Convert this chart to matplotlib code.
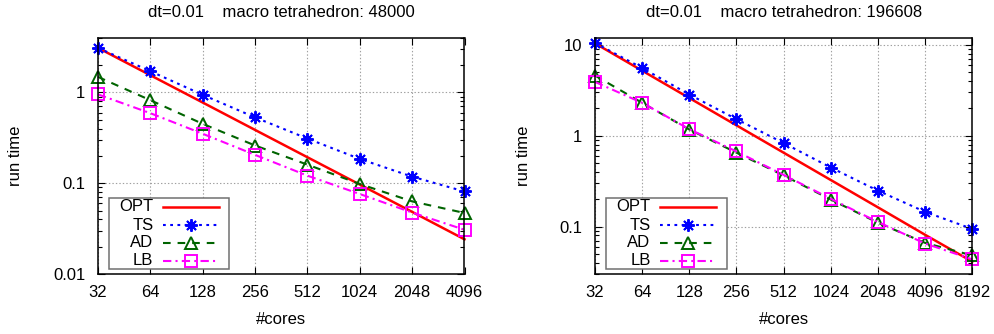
import matplotlib
matplotlib.use("Agg")
import matplotlib.pyplot as plt
from matplotlib.lines import Line2D
from matplotlib.patches import Rectangle
from matplotlib.ticker import FixedLocator, FixedFormatter, LogLocator, NullLocator, NullFormatter

plt.rcParams['font.family'] = ['Liberation Sans', 'DejaVu Sans']
plt.rcParams['lines.scale_dashes'] = False

# ---- data ----
cores_a = [32, 64, 128, 256, 512, 1024, 2048, 4096]
opt_a = [3.09, 1.545, 0.773, 0.386, 0.193, 0.0966, 0.0483, 0.0241]
ts_a = [3.09, 1.71, 0.94, 0.53, 0.31, 0.185, 0.118, 0.081]
ad_a = [1.48, 0.82, 0.45, 0.26, 0.16, 0.098, 0.063, 0.047]
lb_a = [0.95, 0.59, 0.35, 0.205, 0.121, 0.076, 0.0475, 0.0307]

cores_b = [32, 64, 128, 256, 512, 1024, 2048, 4096, 8192]
opt_b = [10.4, 5.2, 2.6, 1.3, 0.65, 0.325, 0.1625, 0.081, 0.041]
ts_b = [10.5, 5.57, 2.84, 1.52, 0.83, 0.446, 0.248, 0.145, 0.094]
ad_b = [4.6, 2.3, 1.17, 0.65, 0.365, 0.198, 0.11, 0.066, 0.048]
lb_b = [3.91, 2.3, 1.18, 0.67, 0.37, 0.202, 0.112, 0.065, 0.0435]

titles = ["dt=0.01    macro tetrahedron: 48000",
          "dt=0.01    macro tetrahedron: 196608"]
ylims = [(0.01, 4.0), (0.03, 12.0)]
yticks = [[0.01, 0.1, 1], [0.1, 1, 10]]
ytick_labels = [["0.01", "0.1", "1"], ["0.1", "1", "10"]]
series_names = ["OPT", "TS", "AD", "LB"]

styles = {
    "OPT": dict(color="#ff0000", linestyle="-", marker=None),
    "TS": dict(color="#0000ff", dashes=(2.0, 3.2), marker=(8, 2, 0)),
    "AD": dict(color="#006400", dashes=(5.5, 5.0), marker="^"),
    "LB": dict(color="#ff00ff", dashes=(6.0, 3.0, 1.5, 3.0), marker="s"),
}

W, H = 995, 334
fig = plt.figure(figsize=(W / 100, H / 100), dpi=100)

# axes boxes in pixels: left, right, top, bottom
boxes = [(98, 464.5, 37.7, 274.0), (595, 972.3, 37.7, 274.0)]
ylabel_x = [16, 523]

datasets = [
    (cores_a, [opt_a, ts_a, ad_a, lb_a]),
    (cores_b, [opt_b, ts_b, ad_b, lb_b]),
]


def draw_line(ax, x, y, name, **kw):
    st = styles[name]
    args = dict(color=st["color"], linewidth=1.5, markersize=9,
                markeredgewidth=1.4, markerfacecolor="none",
                markeredgecolor=st["color"])
    if st.get("marker") is not None:
        args["marker"] = st["marker"]
    if "dashes" in st:
        args["dashes"] = st["dashes"]
    else:
        args["linestyle"] = st["linestyle"]
    if name == "OPT":
        args["linewidth"] = 1.8
    args.update(kw)
    return ax.plot(x, y, **args)


for i, (cores, series) in enumerate(datasets):
    l, r, t, b = boxes[i]
    ax = fig.add_axes([l / W, (H - b) / H, (r - l) / W, (b - t) / H])
    ax.set_xscale("log", base=2)
    ax.set_yscale("log")
    ax.set_xlim(cores[0], cores[-1])
    ax.set_ylim(*ylims[i])

    for name, vals in zip(series_names, series):
        draw_line(ax, cores, vals, name, clip_on=False, zorder=3)

    ax.xaxis.set_major_locator(FixedLocator(cores))
    ax.xaxis.set_major_formatter(FixedFormatter([str(c) for c in cores]))
    ax.xaxis.set_minor_locator(NullLocator())
    ax.yaxis.set_major_locator(FixedLocator(yticks[i]))
    ax.yaxis.set_major_formatter(FixedFormatter(ytick_labels[i]))
    ax.yaxis.set_minor_locator(LogLocator(base=10, subs=range(2, 10)))
    ax.yaxis.set_minor_formatter(NullFormatter())

    ax.tick_params(which="both", direction="in", top=True, right=True,
                   labelsize=12, colors="black")
    ax.tick_params(which="major", length=5, width=0.8)
    ax.tick_params(which="minor", length=3, width=0.8)
    ax.tick_params(axis="x", pad=8)
    ax.tick_params(axis="y", pad=9)
    for sp in ax.spines.values():
        sp.set_linewidth(1.1)
        sp.set_zorder(4)

    ax.grid(True, which="major", color="#a0a0a0", linestyle=(0, (1, 1.5)),
            linewidth=0.8)
    ax.set_axisbelow(True)

    ax.set_title(titles[i], fontsize=12, pad=15)
    ax.set_xlabel("#cores", fontsize=12)
    ax.set_ylabel("run time", fontsize=12)
    ax.xaxis.label.set_va("center")
    ax.xaxis.set_label_coords(0.5, (b - 319) / (b - t))
    ax.yaxis.label.set_va("center")
    ax.yaxis.set_label_coords((ylabel_x[i] - l) / (r - l), 0.5)

    # key box, placed by pixel offsets from the lower-left corner of the axes
    aw, ah = r - l, b - t

    def fx(px):
        return px / aw

    def fy(py):
        return (b - py) / ah

    bx0, bx1 = 11, 11 + 120.5
    by0, by1 = 197.7, 269.3
    ax.add_patch(Rectangle((fx(bx0), fy(by1)), fx(bx1) - fx(bx0), fy(by0) - fy(by1),
                           transform=ax.transAxes, facecolor="white",
                           edgecolor="#707070", linewidth=1.1, zorder=5,
                           clip_on=False))
    rows = [206.7, 225.0, 242.7, 260.5]
    text_right = 55.5
    for name, ry in zip(series_names, rows):
        ax.text(fx(text_right), fy(ry), name, transform=ax.transAxes,
                ha="right", va="center", fontsize=12, zorder=6)
        draw_line(ax, [fx(65), fx(93), fx(121)], [fy(ry)] * 3, name,
                  transform=ax.transAxes, markevery=[1], clip_on=False,
                  zorder=6)

fig.savefig("out.png", dpi=100)
